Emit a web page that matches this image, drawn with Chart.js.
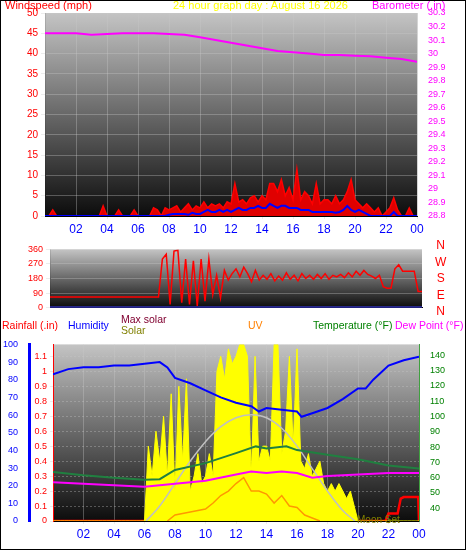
<!DOCTYPE html>
<html>
<head>
<meta charset="utf-8">
<script src="https://cdn.jsdelivr.net/npm/chart.js@4.4.1/dist/chart.umd.min.js"></script>
<style>
  body { margin: 0; background: #fff; }
  #wrap { position: relative; width: 466px; height: 550px; box-sizing: border-box; border: 1px solid #000; overflow: hidden; font-family: "Liberation Sans", Arial, sans-serif; }
  canvas { position: absolute; left: 0; }
  .t { position: absolute; font-size: 11px; white-space: nowrap; line-height: 12px; }
  .l { font-size: 10.5px; }
</style>
</head>
<body>
<div id="wrap">
  <canvas id="c1" width="466" height="245" style="top:0"></canvas>
  <canvas id="c2" width="466" height="75" style="top:240px"></canvas>
  <canvas id="c3" width="466" height="215" style="top:335px"></canvas>
  <div class="t" style="left:4px;top:-2px;color:#f00">Windspeed (mph)</div>
  <div class="t" style="left:172px;top:-2px;color:#ff0">24 hour graph day : August 16 2026</div>
  <div class="t" style="left:371px;top:-2px;color:#f0f">Barometer (.in)</div>
  <div class="t" style="left:434px;top:236px;color:#f00;line-height:16.5px;text-align:center;font-size:12px">N<br>W<br>S<br>E<br>N</div>
  <div class="t l" style="left:1px;top:318px;color:#f00">Rainfall (.in)</div>
  <div class="t l" style="left:67px;top:318px;color:#00f">Humidity</div>
  <div class="t l" style="left:120px;top:312px;color:#800030">Max solar</div>
  <div class="t l" style="left:120px;top:323px;color:#808000">Solar</div>
  <div class="t l" style="left:247px;top:318px;color:#ff8000">UV</div>
  <div class="t l" style="left:312px;top:318px;color:#008000">Temperature (°F)</div>
  <div class="t l" style="left:394px;top:318px;color:#f0f">Dew Point (°F)</div>
  <div class="t" style="left:356px;top:513px;color:#808000;font-size:10px">Moon Set</div>
</div>
<script>
// quarter-hour series (97 points, 0..24h)
const gust = [0,0,1.5,0, 0,0,0,0, 0,0,0,0, 0,0,0,2.5, 0,0,0,1.5, 0,0,0,1.5, 0,0,0,0,
  2,1.5,0,2, 1.5,2,2.5,1, 2,3,1.5,2.5, 2,3.5,2,3, 2.5,3,2,3.5, 3,8,3.5,4, 3,4.5,5,3.5,
  5,4,8,8, 6,9,5,7, 4,11.5,4,6, 5,3,8,3, 4,4,3,5, 3,4,6,9, 4,3,2,3, 2,1,2,0, 1,2,4.5,1.5, 0,0,2,0, 0];
const avgWind = [0,0,0,0, 0,0,0,0, 0,0,0,0, 0,0,0,0, 0,0,0,0, 0,0,0,0, 0,0,0,0, 0,0,0,0,
  0.3,0.5,0.5,0.5, 0.5,0.3,0.8,0.5, 0.5,1,1.5,1, 1,1.5,1,1.5, 1,1.5,2,1.5, 1.5,2,2,2.5,
  2,2,3,2.5, 2,2.5,2.5,2, 2,2,1.5,1.5, 1.5,1,1,1, 1,1,1,0.8, 1,1.5,2.5,1.5, 1,1.5,1,0.5,
  0,0,0,0, 0,0,1,0, 0,0,0,0, 0];
const windDir = [65,65,65,65, 65,65,65,65, 65,65,65,65, 65,65,65,65, 65,65,65,65, 65,65,65,65, 65,65,65,65,
  65,300,330,20, 350,355,30,300, 20,290,10,300, 40,300,80,200, 60,230,170,210, 240,190,250,210,
  160,230,170,200, 175,210,165,195, 170,215,175,200, 165,210,180,200, 175,205,180,210,
  175,200,190,205, 185,215,190,225, 200,230,205,195, 180,200,130,120, 120,240,265,225, 225,225,225,100, 100];
const solar = [0,0,0,0, 0,0,0,0, 0,0,0,0, 0,0,0,0, 0,0,0,0, 0,0,0,0,
  0,0.5,0.3,0.6, 0.4,0.7,0.3,0.85, 0.2,0.9,0.4,0.95, 0.2,0.3,0.45,0.25, 0.3,0.45,0.3,1.0,
  1.1,0.95,1.15,1.05, 1.1,1.18,1.18,1.1, 0.3,1.1,0.4,0.5, 0.5,0.4,1.18,1.18, 0.45,0.6,1.1,0.5,
  1.15,0.4,0.35,0.45, 0.3,0.35,0.4,0.25, 0.2,0.25,0.2,0.25, 0.2,0.15,0.2,0.1,
  0,0,0,0, 0,0,0,0, 0,0,0,0, 0,0,0,0, 0];

// hourly / irregular series
const baroHours = [0,1,2,3,4,5,6,7,8,9,10,11,12,13,14,15,16,17,18,19,20,21,22,23,24];
const baro = [30.15,30.15,30.15,30.14,30.145,30.15,30.15,30.15,30.145,30.14,30.12,30.10,30.08,30.06,30.04,30.02,30.01,30.0,29.99,29.99,29.985,29.98,29.97,29.96,29.94];
const humHours = [0,1,2,3,4,5,6,7,7.5,8,9,10,11,12,13,13.5,14,15,16,16.3,17,18,19,20,20.5,21,22,23,24];
const humidity = [83,86,87,87,88,88,89,90,87,81,78,74,70,67,65,62,64,63,62,59,61,64,69,75,75,80,88,91,93];
const tempHours = [0,2,4,6,7,8,10,12,13.3,14,15.3,16,18,20,22,24];
const temperature = [63.7,61.5,60,58.6,59,65,69.5,76,80.4,79,80.5,78,75,72,68,66];
const dewHours = [0,2,4,6,8,10,12,13,14,15,16,17,18,20,22,24];
const dewPoint = [57,56,55,54,56,58,62,64,63,64,63,60,61,62,63,63];
const maxSolarHours = [6.1,7,8,9,10,11,12,13,14,15,16,17,18,19,19.8];
const maxSolar = [0,0.1,0.25,0.4,0.53,0.63,0.69,0.71,0.69,0.62,0.5,0.35,0.2,0.07,0];
const uvHours = [7.5,8,9,10,10.5,11,11.5,12,12.5,13,13.5,14,14.5,15,15.5,16,16.5,17,17.5];
const uv = [0,0.04,0.06,0.08,0.12,0.17,0.2,0.25,0.29,0.2,0.2,0.18,0.12,0.17,0.1,0.09,0.04,0.02,0];
const rainHours = [0,21.8,22.0,22.6,22.8,23.0,23.95,24];
const rain = [0,0,0.05,0.05,0.15,0.16,0.16,0];

const hourTicks = ['02','04','06','08','10','12','14','16','18','20','22','00'];
const windTicks = [0,5,10,15,20,25,30,35,40,45,50];
const baroTicks = [28.8,28.9,29,29.1,29.2,29.3,29.4,29.5,29.6,29.7,29.8,29.9,30,30.1,30.2,30.3];
const rainTicks = [0,0.1,0.2,0.3,0.4,0.5,0.6,0.7,0.8,0.9,1,1.1];
const tempTicks = [40,50,60,70,80,90,100,110,120,130,140];

const q = arr => arr.map((v, i) => ({x: i / 4, y: v}));
const pts = (xs, ys) => xs.map((x, i) => ({x, y: ys[i]}));
const fixTicks = list => sc => { sc.ticks = list.map(v => ({value: v})); };

const bgPlugin = {
  id: 'bg',
  beforeDraw(chart) {
    const {ctx, chartArea: a} = chart;
    const g = ctx.createLinearGradient(0, a.top, 0, a.bottom);
    g.addColorStop(0, '#c4c4c4');
    g.addColorStop(1, '#0c0c0c');
    ctx.save();
    ctx.fillStyle = g;
    ctx.fillRect(a.left, a.top, a.right - a.left, a.bottom - a.top);
    ctx.restore();
  }
};

const font = {family: 'Liberation Sans', size: 10};
const small = {family: 'Liberation Sans', size: 9};
const grid = {color: 'rgba(200,200,200,0.35)'};
const width = w => sc => { sc.width = w; };
const xAxis = (show, h) => ({
  type: 'linear', min: 0, max: 24,
  afterBuildTicks: fixTicks([2,4,6,8,10,12,14,16,18,20,22,24]),
  afterFit: sc => { sc.height = h; },
  ticks: {display: show, autoSkip: false, color: '#00f', font: {family: 'Liberation Sans', size: 12}, maxRotation: 0,
    callback: (v) => hourTicks[v / 2 - 1]},
  grid: {color: grid.color, tickLength: 3}, border: {color: '#000'}
});
const base = {
  responsive: false, animation: false,
  plugins: {legend: {display: false}, tooltip: {enabled: false}},
  elements: {point: {radius: 0}, line: {tension: 0}}
};

new Chart(document.getElementById('c1'), {
  type: 'line',
  data: {datasets: [
    {data: pts(baroHours, baro), yAxisID: 'baro', borderColor: '#ff00ff', borderWidth: 2},
    {data: q(avgWind), yAxisID: 'wind', borderColor: '#0000ff', borderWidth: 2},
    {data: q(gust), yAxisID: 'wind', borderColor: '#ff0000', backgroundColor: '#e00000', fill: 'origin', borderWidth: 1.5}
  ]},
  plugins: [bgPlugin],
  options: {...base, layout: {padding: {top: 12}},
    scales: {
      x: xAxis(true, 30),
      wind: {position: 'left', min: 0, max: 50, afterFit: width(44), afterBuildTicks: fixTicks(windTicks),
        ticks: {autoSkip: false, color: '#f00', font}, grid: {...grid, tickLength: 4}},
      baro: {position: 'right', min: 28.8, max: 30.3, afterFit: width(50), afterBuildTicks: fixTicks(baroTicks),
        ticks: {autoSkip: false, color: '#f0f', font: small, callback: v => (Math.round(v * 10) / 10).toString()},
        grid: {display: false}}
    }}
});

new Chart(document.getElementById('c2'), {
  type: 'line',
  data: {datasets: [
    {data: q(windDir), yAxisID: 'dir', borderColor: '#ff0000', borderWidth: 1.5},
    {data: pts([0, 24], [0, 0]), yAxisID: 'dir', borderColor: '#4040ff', borderWidth: 2}
  ]},
  plugins: [bgPlugin],
  options: {...base, layout: {padding: {top: 3, bottom: 5}},
    scales: {
      x: {...xAxis(false, 0), grid: {display: false}},
      dir: {position: 'left', min: 0, max: 360, afterFit: width(49),
        ticks: {stepSize: 90, autoSkip: false, color: '#f00', font: small}, grid: {...grid, tickLength: 4}},
      pad: {position: 'right', display: true, afterFit: width(45), ticks: {display: false}, grid: {display: false}, border: {display: false}}
    }}
});

new Chart(document.getElementById('c3'), {
  type: 'line',
  data: {datasets: [
    {data: pts(humHours, humidity), yAxisID: 'hum', borderColor: '#0000ff', borderWidth: 2},
    {data: pts(tempHours, temperature), yAxisID: 'temp', borderColor: '#208040', borderWidth: 2},
    {data: pts(dewHours, dewPoint), yAxisID: 'temp', borderColor: '#ff00ff', borderWidth: 2},
    {data: pts(maxSolarHours, maxSolar), yAxisID: 'rain', borderColor: '#c0c0c0', borderWidth: 1.5, tension: 0.4},
    {data: pts(uvHours, uv), yAxisID: 'rain', borderColor: '#ff9900', borderWidth: 1.5},
    {data: q(solar), yAxisID: 'rain', borderColor: '#ffff00', backgroundColor: '#ffff00', fill: 'origin', borderWidth: 1},
    {data: pts(rainHours, rain), yAxisID: 'rain', borderColor: '#ff0000', borderWidth: 2.5}
  ]},
  plugins: [bgPlugin],
  options: {...base, layout: {padding: {top: 5}},
    scales: {
      x: xAxis(true, 30),
      rain: {position: 'left', min: 0, max: 1.18, afterFit: width(24), afterBuildTicks: fixTicks(rainTicks),
        ticks: {autoSkip: false, color: '#f00', font: small, callback: v => (Math.round(v * 10) / 10).toString()},
        grid: {...grid, tickLength: 3}, border: {color: '#f00', dash: [2, 2]}},
      hum: {position: 'left', min: 0, max: 100, afterFit: width(28),
        ticks: {stepSize: 10, autoSkip: false, color: '#00f', font: small},
        grid: {display: false}, border: {color: '#00f', width: 3}},
      temp: {position: 'right', min: 31.7, max: 147, afterFit: width(48), afterBuildTicks: fixTicks(tempTicks),
        ticks: {autoSkip: false, color: '#008000', font: small},
        grid: {display: false}, border: {color: '#40a040', dash: [2, 2]}}
    }}
});
</script>
</body>
</html>
